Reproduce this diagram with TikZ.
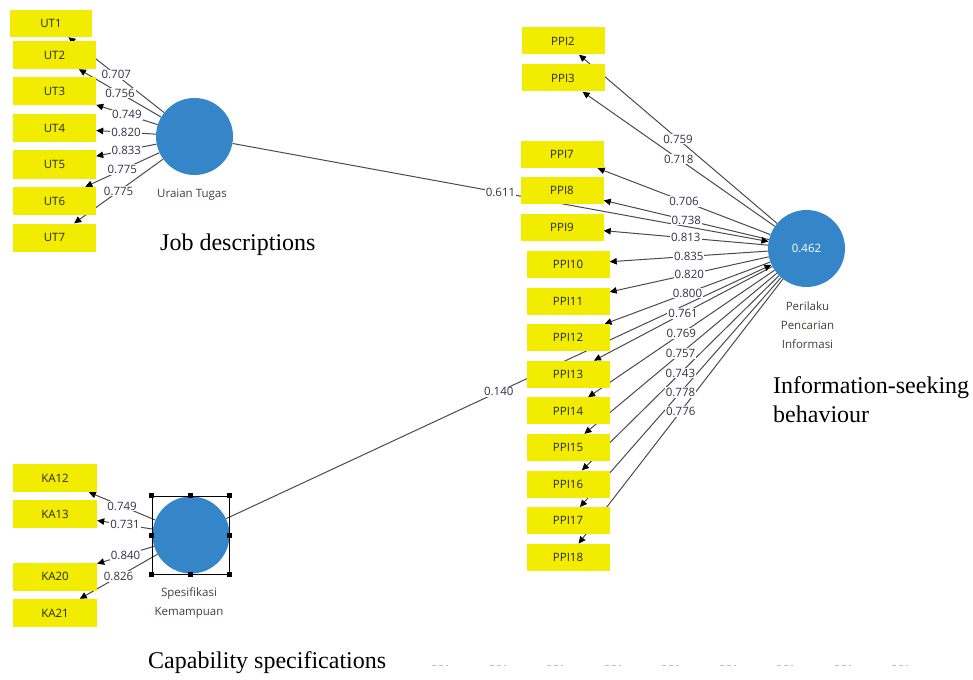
\documentclass[tikz,border=0pt]{standalone}
\usepackage{fontspec}
\setmainfont{Liberation Serif}
\newfontfamily\uifont{Open Sans}
\usetikzlibrary{arrows.meta,backgrounds}
\definecolor{boxyellow}{RGB}{242,236,0}
\definecolor{lvblue}{RGB}{52,134,201}
\definecolor{lineg}{RGB}{75,75,75}
\definecolor{numcol}{RGB}{50,50,75}
\definecolor{lvtext}{RGB}{75,62,55}
\definecolor{boxtext}{RGB}{40,40,30}
\begin{document}
\begin{tikzpicture}[x=1pt,y=-1pt,
  ind/.style={fill=boxyellow, minimum width=83pt, minimum height=27pt, inner sep=0pt,
    font=\uifont\fontsize{11.5}{13}\selectfont, text=boxtext},
  lv/.style={circle, fill=lvblue, minimum size=77pt, inner sep=0pt},
  conn/.style={draw=lineg, line width=1pt, -{Triangle[length=7pt,width=6.5pt,color=black]}},
  lbl/.style={fill=white, inner sep=1pt, font=\uifont\fontsize{11.5}{13}\selectfont, text=numcol},
  lvlbl/.style={align=center, font=\uifont\fontsize{11.5}{19}\selectfont, text=lvtext},
  captxt/.style={font=\fontsize{24}{29}\selectfont, anchor=base west, inner sep=0pt},
  handle/.style={fill=black, minimum size=5pt, inner sep=0pt}]
\useasboundingbox (0,0) rectangle (973,679);

% latent variables
\node[lv] (UT) at (194.5,136.5) {};
\node[lv] (SK) at (191,535) {};
\node[lv, text=white, font=\uifont\fontsize{11.5}{13}\selectfont] (PPI) at (806.5,248.5) {0.462};

\node[lvlbl] (UTl) at (192,195) {Uraian Tugas};
\node[lvlbl] (SKl) at (189,603) {Spesifikasi\\Kemampuan};
\node[lvlbl] (PPIl) at (807.5,325) {Perilaku\\Pencarian\\Informasi};

% selection frame around Spesifikasi Kemampuan
\node[draw=black, line width=0.7pt, minimum width=77pt, minimum height=78pt, inner sep=0pt] (frame) at (190.5,535) {};
\foreach \a [count=\i] in {north west,north,north east,east,south east,south,south west,west}
  \node[handle] (h\i) at (frame.\a) {};

% indicators: Uraian Tugas
\node[ind, minimum width=82pt] (UT1) at (51,23.5) {UT1};
\foreach \n [count=\k from 0] in {UT2,UT3,UT4,UT5,UT6,UT7}
  \node[ind, minimum height=28pt] (\n) at (54.5,55+36.5*\k) {\n};

% indicators: Spesifikasi Kemampuan
\node[ind, minimum width=84pt, minimum height=28pt] (KA12) at (55,478) {KA12};
\node[ind, minimum width=84pt, minimum height=28pt] (KA13) at (55,514) {KA13};
\node[ind, minimum width=84pt, minimum height=28pt] (KA20) at (55,576.5) {KA20};
\node[ind, minimum width=84pt, minimum height=28pt] (KA21) at (55,613) {KA21};

% indicators: Perilaku Pencarian Informasi
\node[ind] (PPI2) at (563,41) {PPI2};
\node[ind] (PPI3) at (563,78) {PPI3};
\node[ind] (PPI7) at (562,154.5) {PPI7};
\node[ind] (PPI8) at (562,190.5) {PPI8};
\node[ind] (PPI9) at (562,227) {PPI9};
\foreach \n [count=\k from 0] in {10,11,12,13,14,15,16,17,18}
  \node[ind] (PPI\n) at (568,264.5+36.6*\k) {PPI\n};

% connectors (behind boxes)
\begin{scope}[on background layer]
  \fill[white] (0,0) rectangle (973,679);
  \foreach \b in {UT1,UT2,UT3,UT4,UT5,UT6,UT7} \draw[conn] (UT) -- (\b);
  \foreach \b in {KA12,KA13,KA20,KA21} \draw[conn] (SK) -- (\b);
  \foreach \b in {PPI2,PPI3,PPI7,PPI8,PPI9,PPI10,PPI11,PPI12,PPI13,PPI14,PPI15,PPI16,PPI17,PPI18}
    \draw[conn] (PPI) -- (\b);
  \draw[conn] (UT) -- (PPI);
  \draw[conn] (SK) -- (PPI);
\end{scope}

% coefficient labels
\foreach \b/\v in {UT1/0.707,UT2/0.756,UT3/0.749,UT4/0.820,UT5/0.833,UT6/0.775,UT7/0.775}
  \path (UT) -- node[lbl] {\v} (\b);
\foreach \b/\v in {KA12/0.749,KA13/0.731,KA20/0.840,KA21/0.826}
  \path (SK) -- node[lbl] {\v} (\b);
\foreach \b/\v in {PPI2/0.759,PPI3/0.718,PPI7/0.706,PPI8/0.738,PPI9/0.813,PPI10/0.835,PPI11/0.820,PPI12/0.800,PPI13/0.761,PPI14/0.769,PPI15/0.757,PPI16/0.743,PPI17/0.778,PPI18/0.776}
  \path (PPI) -- node[lbl] {\v} (\b);
\path (UT) -- node[lbl] {0.611} (PPI);
\path (SK) -- node[lbl] {0.140} (PPI);

% English captions
\node[captxt] (capJD) at (160,250) {Job descriptions};
\node[captxt] (capCS) at (148,668) {Capability specifications};
\node[captxt] (capIS1) at (773,393) {Information-seeking};
\node[captxt] (capIS2) at (773,422) {behaviour};

% faint marks at the bottom
\foreach \x in {440,497.5,555,612.5,670,727.5,785,842.5,900}
  \draw[black!25, line width=0.8pt, dash pattern=on 4pt off 3pt] (\x-8,665) -- (\x+8,665);
\end{tikzpicture}
\end{document}
